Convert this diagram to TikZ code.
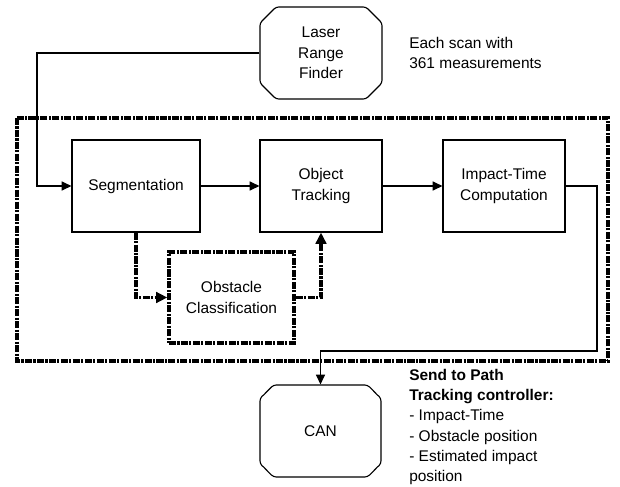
\documentclass[tikz,border=0pt]{standalone}
\usepackage{fontspec}
\setmainfont{Liberation Sans}
\usetikzlibrary{arrows.meta,shapes.misc}

\tikzset{
  blk/.style={draw, line width=0.8pt, minimum width=3.05cm, minimum height=2.3cm,
    inner sep=0pt, align=center, font=\fontsize{11}{14.4}\selectfont},
  cblk/.style={blk, chamfered rectangle, chamfered rectangle xsep=0.2cm,
    chamfered rectangle ysep=0.2cm, rounded corners=2pt},
  dotbox/.style={line width=2.3pt, dash pattern=on 5pt off 1pt on 1.5pt off 1pt},
  flow/.style={line width=0.8pt, -{Triangle[length=7pt,width=6.5pt]}},
  dflow/.style={dotbox, line width=2.4pt, -{Triangle[length=8pt,width=7.5pt]}},
  txt/.style={align=left, inner sep=0pt, font=\fontsize{11}{14.4}\selectfont}
}

\begin{document}
\begin{tikzpicture}[x=0.025cm, y=-0.025cm]

\useasboundingbox (0,0) rectangle (620,487);

% outer frame
\draw[dotbox] (17,118) rectangle (608,361);

\node[cblk] (laser) at (321,53) {Laser\\Range\\Finder};
\node[blk, minimum width=3.2cm] (seg) at (136,186) {Segmentation};
\node[blk] (track) at (321,186) {Object\\Tracking};
\node[blk] (impact) at (504,186) {Impact-Time\\Computation};
\node[blk, dotbox, minimum width=3.125cm, minimum height=2.275cm] (obst) at (231.5,297.5) {Obstacle\\Classification};
\node[cblk, minimum width=3.025cm] (can) at (320.5,431) {CAN};

\node[txt, anchor=west] (scan) at (409,53) {Each scan with\\361 measurements};
\node[txt, anchor=north west] (send) at (409,369) {\textbf{Send to Path}\\\textbf{Tracking controller:}\\- Impact-Time\\- Obstacle position\\- Estimated impact\\position};

\coordinate (feed) at (37,53);
\coordinate (turn) at (597,351);

\draw[flow] (laser.west) -- (feed) |- (seg.west);
\draw[flow] (seg) -- (track);
\draw[flow] (track) -- (impact);
\draw[flow] (impact.east) -| (turn) -| (can.north);

\draw[dflow] (seg.south) |- (obst.west);
\draw[dflow] (obst.east) -| (track.south);

\end{tikzpicture}
\end{document}
